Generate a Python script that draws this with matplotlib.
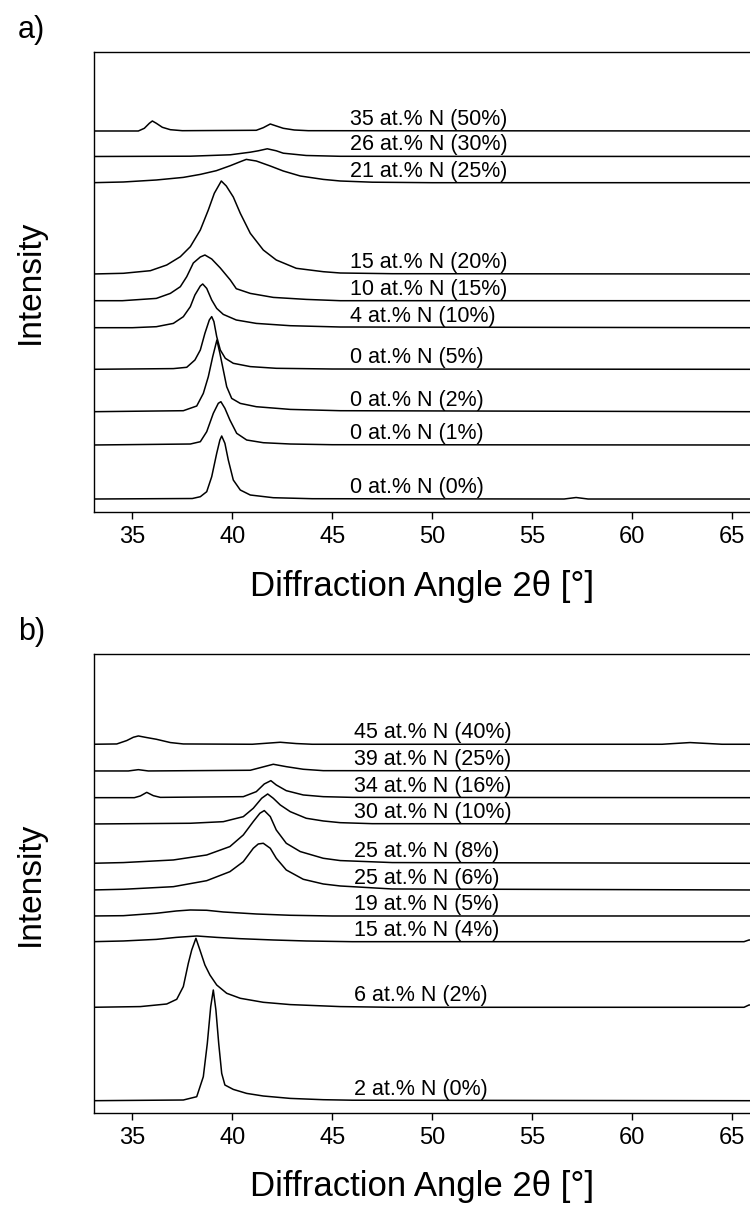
import matplotlib
matplotlib.use("Agg")
import matplotlib.pyplot as plt

plt.rcParams["font.family"] = ["Liberation Sans", "DejaVu Sans"]

# ---- panel a: curves as (2theta, intensity above own baseline) ----
A_LABELS = ["35 at.% N (50%)", "26 at.% N (30%)", "21 at.% N (25%)",
            "15 at.% N (20%)", "10 at.% N (15%)", "4 at.% N (10%)",
            "0 at.% N (5%)", "0 at.% N (2%)", "0 at.% N (1%)", "0 at.% N (0%)"]
A_OFFSETS = [381, 355.5, 329.3, 238, 211.3, 184.3, 142.7, 100.3, 67, 13]

A50_TTH = [33, 35.3, 35.6, 35.85, 36.0, 36.2, 36.5, 36.9, 37.5, 41.2, 41.55, 41.9, 42.2, 42.55, 43.1, 43.8, 66]
A50_I = [0, 0, 2.7, 7.7, 10, 7.7, 3.7, 1.3, 0.3, 0.7, 3.3, 7, 5, 2.7, 1, 0.3, 0]
A30_TTH = [33, 37.9, 39.9, 40.9, 41.3, 41.75, 42.2, 42.55, 43.7, 45.4, 66]
A30_I = [0, 0.3, 1.7, 4.3, 5.7, 7.7, 5.7, 3.3, 1, 0.2, 0]
A25_TTH = [33, 34.55, 36.2, 37.55, 38.4, 39.2, 39.9, 40.4, 40.7, 41.2, 41.9, 42.55, 43.4, 44.55, 45.4, 47, 50, 66]
A25_I = [0, 0.7, 2.7, 5.3, 8.3, 12, 17, 21, 23.3, 21.7, 16.7, 11.7, 6.7, 3.3, 1.7, 0.5, 0, 0]
A20_TTH = [33, 34.55, 35.9, 36.72, 37.4, 37.9, 38.4, 38.8, 39.1, 39.45, 39.7, 40.05, 40.4, 40.9,
           41.55, 42.2, 43.2, 44.55, 45.4, 48, 66]
A20_I = [0, 0.7, 3.3, 9, 17.3, 27.3, 44, 64, 80.7, 93, 88, 77, 60.7, 40.7, 24, 14, 5.7, 2.3, 1, 0.3, 0]
A15_TTH = [33, 34.5, 36.2, 36.9, 37.4, 37.72, 38.05, 38.4, 38.63, 38.97, 39.4, 39.9, 40.2, 40.9, 42.05, 43.7, 45.4, 66]
A15_I = [0, 0, 2.3, 7.3, 14, 24, 37.7, 43.7, 45.7, 41.7, 32.7, 20.7, 12, 7.3, 3.3, 1.3, 0, 0]
A10_TTH = [33, 35, 36.2, 37.05, 37.55, 37.9, 38.13, 38.4, 38.52, 38.72, 38.97, 39.22, 39.55, 40.2, 41.2, 42.9, 45.4, 66]
A10_I = [0, 0, 1, 4.3, 11, 21, 32.7, 41.7, 43.7, 39.3, 27.7, 19.3, 13.3, 7.7, 4.3, 2, 0.7, 0]
A05_TTH = [33, 37.05, 37.72, 38.13, 38.4, 38.63, 38.85, 38.97, 39.08, 39.22, 39.4, 39.65, 40.05, 40.9, 42.2, 45, 66]
A05_I = [0, 0.7, 2, 9.3, 19.3, 36, 49.3, 52.7, 47.7, 32.7, 19.3, 11, 6, 2.7, 1, 0.3, 0]
A02_TTH = [33, 37.55, 38.22, 38.55, 38.8, 39.02, 39.23, 39.38, 39.55, 39.72, 39.97, 40.4, 41.2, 42.9, 45.4, 66]
A02_I = [0, 1, 5.7, 18.3, 35, 55, 71.7, 58.3, 41.7, 25, 13.3, 8.3, 5, 2.3, 1, 0]
A01_TTH = [33, 37.9, 38.4, 38.72, 39.05, 39.3, 39.43, 39.63, 39.88, 40.22, 40.72, 41.55, 42.9, 45, 66]
A01_I = [0, 1, 3.3, 13.3, 31.7, 41.7, 43.3, 36.7, 25, 11.7, 5, 2.3, 1, 0.3, 0]
A00_TTH = [33, 38.0, 38.4, 38.72, 38.97, 39.22, 39.38, 39.47, 39.63, 39.8, 40.05, 40.4, 40.9, 42.05, 44,
           56.6, 57.2, 57.8, 66]
A00_I = [0, 0.5, 2.3, 7.3, 22.3, 45.7, 59, 63, 55.7, 39, 19, 9, 4, 1.3, 0.3, 0, 1.5, 0, 0]

A_CURVES = [(A50_TTH, A50_I), (A30_TTH, A30_I), (A25_TTH, A25_I), (A20_TTH, A20_I),
            (A15_TTH, A15_I), (A10_TTH, A10_I), (A05_TTH, A05_I), (A02_TTH, A02_I),
            (A01_TTH, A01_I), (A00_TTH, A00_I)]

# ---- panel b ----
B_LABELS = ["45 at.% N (40%)", "39 at.% N (25%)", "34 at.% N (16%)", "30 at.% N (10%)",
            "25 at.% N (8%)", "25 at.% N (6%)", "19 at.% N (5%)", "15 at.% N (4%)",
            "6 at.% N (2%)", "2 at.% N (0%)"]
B_OFFSETS = [368.7, 342, 315.3, 289, 249.7, 223, 197, 171.3, 105.7, 12.3]

B40_TTH = [33, 34.22, 34.72, 35.05, 35.3, 35.72, 36.2, 36.9, 37.55, 41.0, 41.7, 42.4, 43.2, 44,
           61.5, 62.9, 64.5, 66]
B40_I = [0, 0.3, 3.7, 7, 8.3, 6.7, 5, 1.7, 0.3, 0, 1, 2, 0.7, 0, 0, 1.7, 0, 0]
B25_TTH = [33, 34.8, 35.3, 35.8, 40.9, 41.4, 42.05, 42.7, 43.55, 44.55, 66]
B25_I = [0, 0, 1.3, 0, 0.7, 3.3, 6.7, 4.3, 1.7, 0.3, 0]
B16_TTH = [33, 35.1, 35.4, 35.72, 36.05, 36.4, 40.55, 41.2, 41.6, 41.93, 42.2, 42.7, 43.55, 44.55, 46, 66]
B16_I = [0, 0, 1.7, 5.3, 2, 0.3, 1, 6, 13.7, 17, 12.7, 7, 2.7, 1, 0.3, 0]
B10_TTH = [33, 37.9, 39.55, 40.55, 41.05, 41.47, 41.77, 42.05, 42.4, 42.9, 43.7, 44.55, 45.4, 47, 66]
B10_I = [0, 0.7, 2.3, 7.3, 15.7, 25.7, 30, 25.7, 19, 12.3, 5.7, 3, 1.3, 0.3, 0]
B08_TTH = [33, 34.55, 37.05, 38.72, 39.88, 40.55, 41.05, 41.38, 41.6, 41.9, 42.2, 42.7, 43.4, 44.55, 45.4, 48, 66]
B08_I = [0, 0.7, 3.3, 8.3, 16.7, 28.3, 41.7, 50, 52.7, 46.7, 33.3, 20, 11.7, 5, 2.7, 0.7, 0]
B06_TTH = [33, 34.55, 37.05, 38.72, 39.88, 40.55, 41.05, 41.3, 41.55, 41.9, 42.2, 42.7, 43.55, 44.55, 45.4, 48, 66]
B06_I = [0, 0.7, 3.3, 9.3, 18.3, 28.3, 41.7, 46, 46.7, 41.7, 31.7, 20, 10.7, 6, 4, 1, 0]
B05_TTH = [33, 34.55, 36.2, 37.2, 37.9, 38.72, 39.55, 41.2, 42.9, 45, 66]
B05_I = [0, 0.3, 2.7, 5, 6, 5.7, 4, 2, 0.7, 0, 0]
B04_TTH = [33, 34.55, 36.2, 37.2, 38.22, 39.22, 40.4, 42.05, 43.7, 46, 65.6, 65.85, 66]
B04_I = [0, 0.7, 2.3, 4.3, 5.7, 4.3, 3, 1.7, 0.7, 0, 0, 1.7, 1.7]
B02_TTH = [33, 35.4, 36.72, 37.22, 37.55, 37.8, 37.97, 38.18, 38.38, 38.63, 38.88, 39.22, 39.72, 40.4,
           41.55, 42.9, 45.4, 48, 65.6, 65.85, 66]
B02_I = [0, 0.7, 3.3, 8, 20.7, 44, 57.3, 69, 57.3, 42.3, 32.3, 22.3, 14, 9, 5, 2.7, 0.7, 0, 0, 2.3, 2.3]
B00_TTH = [33, 37.55, 38.22, 38.55, 38.75, 38.92, 39.05, 39.18, 39.32, 39.47, 39.63, 40.05, 40.72,
           41.55, 42.9, 44.55, 46, 66]
B00_I = [0, 0.7, 4, 24, 57.3, 94, 110.7, 90.7, 57.3, 27.3, 15.7, 11.3, 7.3, 4.7, 2.3, 1, 0.5, 0]

B_CURVES = [(B40_TTH, B40_I), (B25_TTH, B25_I), (B16_TTH, B16_I), (B10_TTH, B10_I),
            (B08_TTH, B08_I), (B06_TTH, B06_I), (B05_TTH, B05_I), (B04_TTH, B04_I),
            (B02_TTH, B02_I), (B00_TTH, B00_I)]

XTICKS = [35, 40, 45, 50, 55, 60, 65]


def draw_panel(ax, curves, offsets, labels, label_x, ytop, letter):
    for (tth, inten), off, lab in zip(curves, offsets, labels):
        ax.plot(tth, [off + v for v in inten], color="k", lw=1.1)
        ax.text(label_x, off + 11.5, lab, fontsize=15.5, ha="left", va="center")

    ax.set_xlim(33.08, 65.9)
    ax.set_ylim(0, ytop)
    ax.set_xticks(XTICKS)
    ax.set_yticks([])
    ax.spines["right"].set_visible(False)
    for s in ("left", "top", "bottom"):
        ax.spines[s].set_linewidth(1.0)
    ax.tick_params(axis="x", direction="out", length=5, width=1.0, pad=5, labelsize=17)
    ax.set_xlabel("Diffraction Angle 2\u03b8 [\u00b0]", fontsize=25)
    ax.xaxis.set_label_coords(0.5, -0.125)
    ax.set_ylabel("Intensity", fontsize=24)
    ax.yaxis.set_label_coords(-0.074, 0.5)
    ax.text(-0.116, 1.048, letter, transform=ax.transAxes, fontsize=22, ha="left", va="center")


fig = plt.figure(figsize=(7.5, 12.09), dpi=100)
ax_a = fig.add_axes([0.1253, 0.5765, 0.8747, 0.3805])
ax_b = fig.add_axes([0.1253, 0.0794, 0.8747, 0.3797])

draw_panel(ax_a, A_CURVES, A_OFFSETS, A_LABELS, 45.9, 460, "a)")
draw_panel(ax_b, B_CURVES, B_OFFSETS, B_LABELS, 46.1, 459, "b)")

fig.savefig("out.png", dpi=100)
